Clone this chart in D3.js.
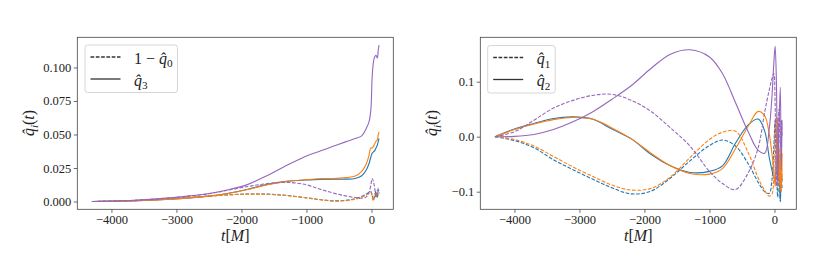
<!DOCTYPE html>
<html>
<head>
<meta charset="utf-8">
<script src="https://cdnjs.cloudflare.com/ajax/libs/d3/7.8.5/d3.min.js"></script>
<style>
  body { margin: 0; background: #fff; }
  svg text { font-family: 'Liberation Serif', 'DejaVu Serif', serif; fill: #222; }
  .tick line { stroke: #444; stroke-width: 0.8; }
  .tick text { font-size: 12.5px; fill: #222; }
</style>
</head>
<body>
<svg id="chart" width="830" height="277"></svg>
<script>
// time grid shared by every curve (t in units of M)
var T = [-4300, -4000, -3700, -3400, -3100, -2800, -2500, -2200, -1900, -1600, -1300, -1000, -800, -600,
         -400, -250, -150, -80, -40, -10, 10, 30, 50, 70, 90, 105, 117];

// left panel: 1 - q0 (dashed) and q3 (solid)
var q0Blue   = [0, 0.0002, 0.0006, 0.0012, 0.002, 0.003, 0.004, 0.005, 0.0056, 0.0055, 0.0045, 0.0028, 0.0015, 0.0005,
                0.0008, 0.0022, 0.0038, 0.0055, 0.0068, 0.0075, 0.005, 0.001, 0.004, 0.008, 0.003, 0.009, 0.006];
var q0Orange = [0, 0.0002, 0.0006, 0.0012, 0.002, 0.003, 0.004, 0.005, 0.0055, 0.0054, 0.0044, 0.0027, 0.0014, 0.0004,
                0.0006, 0.0018, 0.0032, 0.0048, 0.006, 0.0068, 0.004, 0.0005, 0.006, 0.003, 0.007, 0.004, 0.005];
var q0Purple = [0, 0.0003, 0.0008, 0.0016, 0.0027, 0.004, 0.0058, 0.0085, 0.0112, 0.0134, 0.0143, 0.0125, 0.0093, 0.0065,
                0.0042, 0.003, 0.0025, 0.0035, 0.0065, 0.012, 0.0172, 0.015, 0.010, 0.003, 0.006, 0.010, 0.008];
var q3Blue   = [0, 0.0002, 0.0005, 0.001, 0.0017, 0.0027, 0.004, 0.0062, 0.0092, 0.0128, 0.015, 0.016, 0.0165, 0.0167,
                0.0167, 0.0172, 0.0192, 0.0235, 0.028, 0.033, 0.036, 0.037, 0.038, 0.040, 0.042, 0.045, 0.047];
var q3Orange = [0, 0.0002, 0.0005, 0.001, 0.0017, 0.0027, 0.004, 0.006, 0.009, 0.0125, 0.015, 0.0163, 0.017, 0.0172,
                0.0178, 0.019, 0.0225, 0.028, 0.034, 0.040, 0.040, 0.041, 0.043, 0.045, 0.046, 0.050, 0.052];
var q3Purple = [0, 0.0003, 0.0008, 0.0016, 0.0027, 0.0042, 0.006, 0.0088, 0.0128, 0.0195, 0.027, 0.034, 0.0375, 0.041,
                0.0445, 0.047, 0.049, 0.0545, 0.059, 0.068, 0.092, 0.104, 0.108, 0.109, 0.107, 0.113, 0.1167];

// right panel: q1 (dashed) and q2 (solid)
var q1Blue   = [0, -0.007, -0.02, -0.042, -0.06, -0.077, -0.093, -0.104, -0.099, -0.075, -0.044, -0.016, -0.006, -0.017,
                -0.050, -0.083, -0.100, -0.103, -0.08, -0.02, 0.03, -0.05, -0.11, -0.05, -0.118, -0.07, -0.095];
var q1Orange = [0, -0.005, -0.017, -0.036, -0.055, -0.072, -0.088, -0.097, -0.094, -0.073, -0.038, -0.005, 0.008, 0.010,
                -0.030, -0.075, -0.098, -0.108, -0.105, -0.06, 0.02, 0.035, -0.08, -0.02, -0.10, -0.04, -0.08];
var q1Purple = [0, 0.009, 0.03, 0.052, 0.066, 0.075, 0.077, 0.066, 0.046, 0.016, -0.017, -0.063, -0.085, -0.096,
                -0.065, -0.020, 0.045, 0.085, 0.105, 0.115, 0.06, -0.09, -0.05, 0.05, -0.02, 0.03, 0.0];
var q2Blue   = [0, 0.014, 0.024, 0.033, 0.036, 0.032, 0.014, -0.004, -0.032, -0.053, -0.065, -0.063, -0.053, -0.012,
                0.022, 0.032, 0.010, -0.038, -0.06, -0.075, -0.078, -0.03, 0.025, -0.05, -0.117, -0.06, -0.08];
var q2Orange = [0, 0.013, 0.023, 0.031, 0.035, 0.032, 0.016, -0.004, -0.030, -0.053, -0.067, -0.068, -0.058, -0.022,
                0.020, 0.046, 0.038, 0.005, -0.03, -0.06, -0.09, -0.04, 0.035, -0.09, -0.02, -0.10, -0.03];
var q2Purple = [0, 0.0005, 0.004, 0.013, 0.027, 0.045, 0.068, 0.093, 0.124, 0.150, 0.158, 0.145, 0.115, 0.062,
                0.008, -0.025, -0.030, 0.015, 0.07, 0.133, 0.165, 0.10, -0.09, 0.02, 0.09, -0.06, 0.03];

var xTicks = [-4000, -3000, -2000, -1000, 0];
var leftYTicks = [0, 0.025, 0.05, 0.075, 0.1];
var rightYTicks = [-0.1, 0, 0.1];

var BLUE = '#1f77b4', ORANGE = '#ff7f0e', PURPLE = '#9467bd';
var SERIF = "'Liberation Serif', 'DejaVu Serif', serif";

var svg = d3.select('#chart');

// write a small math expression from parts: {s, it, sub}
function mathText(sel, size, parts) {
	var shift = 0;
	parts.forEach(function(p) {
		var span = sel.append('tspan').text(p.s);
		if (p.it) span.attr('font-style', 'italic');
		if (p.sub) {
			span.attr('font-size', size * 0.7).attr('dy', size * 0.22 - shift);
			shift = size * 0.22;
		} else if (shift) {
			span.attr('dy', -shift);
			shift = 0;
		}
	});
	return sel;
}

function panel(opt) {
	var x = d3.scaleLinear().domain([-4525, 336]).range([opt.left, opt.left + 316]);
	var y = d3.scaleLinear().domain(opt.yDomain).range([209.3, 37.3]);
	var g = svg.append('g');

	g.append('g')
	  .attr('transform', 'translate(0,209.3)')
	  .call(d3.axisBottom(x).tickValues(xTicks).tickSize(3.5).tickPadding(2.5).tickFormat(d3.format('d')))
	  .attr('font-family', SERIF).attr('font-size', 12.5)
	  .call(function(a) { a.select('.domain').remove(); });
	g.append('g')
	  .attr('transform', 'translate(' + opt.left + ',0)')
	  .call(d3.axisLeft(y).tickValues(opt.yTicks).tickSize(3.5).tickPadding(2.5).tickFormat(d3.format(opt.yFormat)))
	  .attr('font-family', SERIF).attr('font-size', 12.5)
	  .call(function(a) { a.select('.domain').remove(); });

	var line = d3.line()
	  .x(function(d, i) { return x(T[i]); })
	  .y(function(d) { return y(d); })
	  .curve(d3.curveCatmullRom.alpha(0.5));

	opt.series.forEach(function(s) {
		g.append('path')
		  .attr('d', line(s.values))
		  .attr('fill', 'none')
		  .attr('stroke', s.color)
		  .attr('stroke-width', 1.1)
		  .attr('stroke-dasharray', s.dashed ? '3.7,1.6' : null);
	});

	g.append('rect')
	  .attr('x', opt.left).attr('y', 37.3)
	  .attr('width', 316).attr('height', 172)
	  .attr('fill', 'none').attr('stroke', '#444').attr('stroke-width', 0.8);

	// axis labels
	mathText(g.append('text')
	  .attr('x', opt.left + 158).attr('y', 241)
	  .attr('text-anchor', 'middle').attr('font-size', 16), 16,
	  [{ s: 't', it: true }, { s: '[' }, { s: 'M', it: true }, { s: ']' }]);

	mathText(g.append('text')
	  .attr('transform', 'translate(' + opt.yLabelX + ',123) rotate(-90)')
	  .attr('text-anchor', 'middle').attr('font-size', 16), 16,
	  [{ s: 'q\u0302', it: true }, { s: 'i', it: true, sub: true }, { s: '(' }, { s: 't', it: true }, { s: ')' }]);

	// legend
	var lg = g.append('g').attr('transform', 'translate(' + opt.legend[0] + ',' + opt.legend[1] + ')');
	lg.append('rect')
	  .attr('width', opt.legend[2]).attr('height', 47.5).attr('rx', 2.5)
	  .attr('fill', '#fff').attr('fill-opacity', 0.8)
	  .attr('stroke', '#ccc').attr('stroke-width', 0.8);
	[0, 1].forEach(function(k) {
		lg.append('line')
		  .attr('x1', 5.5).attr('x2', 35.5)
		  .attr('y1', 12 + 22 * k).attr('y2', 12 + 22 * k)
		  .attr('stroke', '#333').attr('stroke-width', 1.3)
		  .attr('stroke-dasharray', k === 0 ? '3.7,1.6' : null);
		mathText(lg.append('text')
		  .attr('x', 49).attr('y', 18.5 + 22 * k).attr('font-size', 16), 16, opt.legendText[k]);
	});
}

panel({
	left: 77.3,
	yDomain: [-0.0058, 0.1225],
	yTicks: leftYTicks,
	yFormat: '.3f',
	yLabelX: 34,
	legend: [85, 45, 92.5],
	legendText: [
		[{ s: '1 \u2212 ' }, { s: 'q\u0302', it: true }, { s: '0', sub: true }],
		[{ s: 'q\u0302', it: true }, { s: '3', sub: true }]
	],
	series: [
		{ values: q0Blue, color: BLUE, dashed: true },
		{ values: q3Blue, color: BLUE },
		{ values: q0Orange, color: ORANGE, dashed: true },
		{ values: q3Orange, color: ORANGE },
		{ values: q0Purple, color: PURPLE, dashed: true },
		{ values: q3Purple, color: PURPLE }
	]
});

panel({
	left: 480.3,
	yDomain: [-0.132, 0.1807],
	yTicks: rightYTicks,
	yFormat: '.1f',
	yLabelX: 437,
	legend: [487.7, 45.5, 67.5],
	legendText: [
		[{ s: 'q\u0302', it: true }, { s: '1', sub: true }],
		[{ s: 'q\u0302', it: true }, { s: '2', sub: true }]
	],
	series: [
		{ values: q1Blue, color: BLUE, dashed: true },
		{ values: q2Blue, color: BLUE },
		{ values: q1Orange, color: ORANGE, dashed: true },
		{ values: q2Orange, color: ORANGE },
		{ values: q1Purple, color: PURPLE, dashed: true },
		{ values: q2Purple, color: PURPLE }
	]
});
</script>
</body>
</html>
